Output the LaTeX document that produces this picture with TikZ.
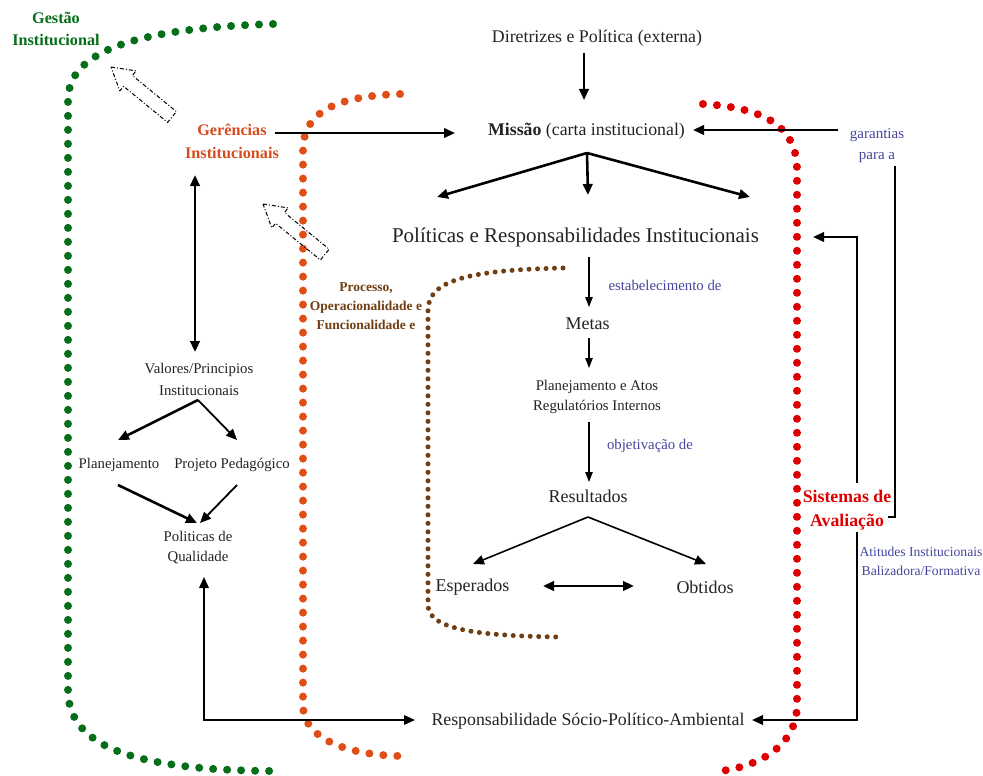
\documentclass[tikz,border=0pt]{standalone}
\usepackage{fontspec}
\setmainfont{Liberation Serif}
\usetikzlibrary{arrows.meta,calc}
\definecolor{gestgreen}{RGB}{5,110,25}
\definecolor{gerorange}{RGB}{215,75,30}
\definecolor{dotorange}{RGB}{222,78,22}
\definecolor{avred}{RGB}{222,0,0}
\definecolor{procbrown}{RGB}{112,62,18}
\definecolor{noteblue}{RGB}{70,70,160}
\definecolor{ink}{RGB}{35,35,35}
\newcommand\myfs[2]{\fontsize{#1}{#2}\selectfont}
\tikzset{
  txt/.style={inner sep=2pt, text=ink, align=center},
  arr/.style={-{Triangle[length=11pt,width=9.5pt]}, line width=2.2pt, draw=black},
  darr/.style={{Triangle[length=11pt,width=9.5pt]}-{Triangle[length=11pt,width=9.5pt]}, line width=2.6pt, draw=black},
  thinarr/.style={-{Triangle[length=10pt,width=7.5pt]}, line width=1.2pt, draw=black},
  conn/.style={line width=2pt, draw=black},
  bigdots/.style={line width=8pt, line cap=round, dash pattern=on 0pt off 14pt},
  smalldots/.style={line width=5pt, line cap=round, dash pattern=on 0pt off 8.5pt},
  hollow/.style={draw=black, line width=1pt, dash pattern=on 4pt off 2pt on 1pt off 2pt, line join=round}
}
\begin{document}
\begin{tikzpicture}[x=1pt,y=-1pt]
\useasboundingbox (0,0) rectangle (983,776);
\fill[white] (0,0) rectangle (983,776);

% dotted boundaries
\draw[bigdots, draw=gestgreen] (273,24) .. controls (140,28) and (68,50) .. (68,100) -- (68,690) .. controls (68,745) and (130,770) .. (272,771);
\draw[bigdots, draw=dotorange] (400,94) .. controls (340,96) and (303,110) .. (303,150) -- (303,705) .. controls (303,740) and (350,755) .. (400,756);
\draw[bigdots, draw=avred] (703,104) .. controls (770,108) and (797,130) .. (797,170) -- (797,705) .. controls (797,745) and (760,768) .. (712,772);
\draw[smalldots, draw=procbrown] (563,268) .. controls (470,270) and (428,280) .. (428,310) -- (428,605) .. controls (428,630) and (480,636) .. (562,637);

% hollow block arrows
\draw[hollow] (111,67) -- (136.2,70.9) -- (132.4,75.5) -- (176.4,111.6) -- (167.6,122.4) -- (123.6,86.3) -- (119.8,90.9) -- cycle;
\draw[hollow] (263,204) -- (288.2,207.9) -- (284.4,212.5) -- (329.2,249.2) -- (320.4,260) -- (275.6,223.3) -- (271.8,227.9) -- cycle;

% central column
\node[txt, font=\myfs{17.8}{21}] (dir) at (597,38) {Diretrizes e Política (externa)};
\node[txt, font=\myfs{17.8}{21}] (mis) at (586.5,131) {\textbf{Missão} (carta institucional)};
\node[txt, font=\myfs{21}{25}] (pol) at (575.5,237) {Políticas e Responsabilidades Institucionais};
\node[txt, font=\myfs{14.8}{18}, text=noteblue] (est) at (665,285) {estabelecimento de};
\node[txt, font=\myfs{18}{22}] (met) at (587.5,324) {Metas};
\node[txt, font=\myfs{14.8}{20}] (pla) at (597,397) {Planejamento e Atos\\Regulatórios Internos};
\node[txt, font=\myfs{14.8}{18}, text=noteblue] (obj) at (650,446) {objetivação de};
\node[txt, font=\myfs{18}{22}] (res) at (588,496) {Resultados};
\node[txt, font=\myfs{18}{22}] (esp) at (472.5,587) {Esperados};
\node[txt, font=\myfs{18}{22}] (obt) at (705,587) {Obtidos};
\node[txt, font=\myfs{17.8}{22}] (rsp) at (588,721) {Responsabilidade Sócio-Político-Ambiental};

% left column
\node[txt, font=\bfseries\myfs{16.2}{22}, text=gestgreen] (ges) at (56,29) {Gestão\\Institucional};
\node[txt, font=\bfseries\myfs{16.2}{23}, text=gerorange] (ger) at (232,141) {Gerências\\Institucionais};
\node[txt, font=\myfs{14.8}{22}] (val) at (199,379) {Valores/Principios\\Institucionais};
\node[txt, font=\myfs{14.8}{18}] (plj) at (119,465) {Planejamento};
\node[txt, font=\myfs{14.8}{18}] (ppd) at (232,465) {Projeto Pedagógico};
\node[txt, font=\myfs{14.8}{20}] (pqu) at (198,548) {Politicas de\\Qualidade};
\node[txt, font=\bfseries\myfs{13.5}{19}, text=procbrown] (pro) at (366,306) {Processo,\\Operacionalidade e\\Funcionalidade e};

% right column
\node[txt, font=\myfs{15}{21}, text=noteblue] (gar) at (877,146) {garantias\\para a};
\node[txt, font=\bfseries\myfs{17.8}{24}, text=avred] (sis) at (847,510) {Sistemas de\\Avaliação};
\node[txt, font=\myfs{13.6}{19}, text=noteblue] (att) at (921,561) {Atitudes Institucionais\\Balizadora/Formativa};

% connectors
\draw[arr] ($(dir)+(-13,15)$) -- ($(mis)+(-2.5,-31)$);
\draw[arr] ($(ger)+(43,-8)$) -- ($(mis)+(-131.5,2)$);
\draw[arr] ($(gar)+(-39,-16)$) -- ($(mis)+(106.5,-1)$);
\draw[arr, line width=2.6pt] ($(mis)+(0.5,22)$) -- ($(pol)+(-138.5,-40)$);
\draw[arr, line width=2.6pt] ($(mis)+(0.5,22)$) -- ($(pol)+(12.5,-42)$);
\draw[arr, line width=2.6pt] ($(mis)+(0.5,22)$) -- ($(pol)+(174.5,-40)$);
\draw[thinarr] ($(pol)+(13.5,20)$) -- ($(met)+(1.5,-17)$);
\draw[thinarr] ($(met)+(1.5,14)$) -- ($(pla)+(-8,-29)$);
\draw[thinarr] ($(pla)+(-8,25)$) -- ($(res)+(1,-14)$);
\draw[arr, line width=1.6pt] ($(res)+(0,21)$) -- ($(esp)+(0.5,-23)$);
\draw[arr, line width=1.6pt] ($(res)+(0,21)$) -- ($(obt)+(1,-23)$);
\draw[darr] ($(esp)+(70.5,-1)$) -- ($(obt)+(-71,-1)$);

\draw[darr] ($(ger)+(-37,34)$) -- ($(val)+(-4,-27)$);
\draw[arr, line width=2.6pt] ($(val)+(-1,21)$) -- ($(plj)+(-1,-25)$);
\draw[arr, line width=1.8pt] ($(val)+(-1,21)$) -- ($(ppd)+(5,-25)$);
\draw[arr, line width=2.6pt] ($(plj)+(-1,20)$) -- ($(pqu)+(-1,-25)$);
\draw[arr, line width=1.8pt] ($(ppd)+(5,20)$) -- ($(pqu)+(2,-25)$);
\draw[darr, line width=2pt] ($(pqu)+(6,29)$) |- ($(rsp)+(-173,-1)$);

\draw[arr] ($(sis)+(10,-27)$) |- ($(pol)+(237.5,0)$);
\draw[arr] ($(sis)+(10,22)$) |- ($(rsp)+(164,-1)$);
\draw[conn] ($(gar)+(18,20)$) |- ($(sis)+(41,7)$);
\end{tikzpicture}
\end{document}
